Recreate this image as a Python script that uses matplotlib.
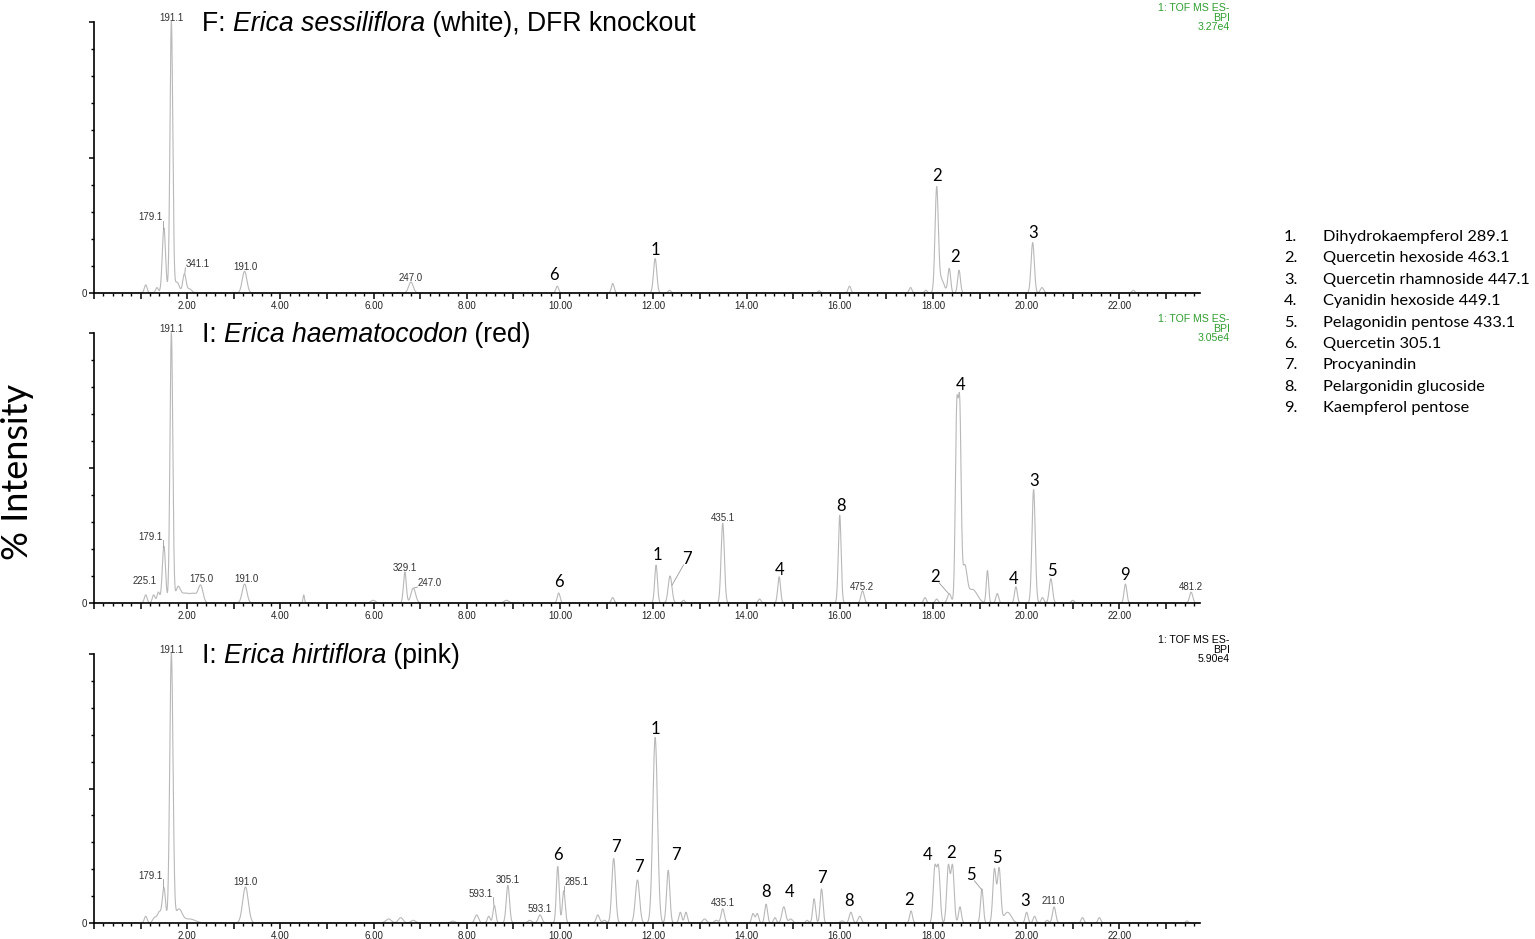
import numpy as np
import matplotlib
matplotlib.use('Agg')
import matplotlib.pyplot as plt
from matplotlib.ticker import MultipleLocator, FuncFormatter

# peaks: (retention time min, % intensity, peak sigma)
peaks_sessiliflora = [
    (1.11, 3, 0.03), (1.35, 2, 0.03), (1.50, 24, 0.035), (1.66, 100, 0.03),
    (1.78, 4, 0.05), (1.94, 7, 0.035), (2.05, 1.5, 0.05), (3.23, 8, 0.05),
    (6.80, 4, 0.05), (9.94, 2.5, 0.03), (11.13, 3.5, 0.03), (12.04, 12.7, 0.035),
    (12.35, 1, 0.03), (15.56, 0.8, 0.03), (16.21, 2.5, 0.03), (17.52, 2, 0.03),
    (17.85, 1, 0.03), (18.08, 38, 0.035), (18.18, 5, 0.06), (18.35, 9, 0.03),
    (18.56, 8.4, 0.03), (20.14, 18.6, 0.035), (20.34, 2, 0.035), (22.30, 1, 0.03),
]
peaks_haematocodon = [
    (1.11, 3, 0.03), (1.28, 3, 0.03), (1.38, 4, 0.03), (1.50, 21, 0.035),
    (1.66, 100, 0.03), (1.80, 5, 0.05), (1.95, 3.5, 0.1), (2.15, 3, 0.08),
    (2.29, 6, 0.05), (3.23, 7, 0.05), (4.50, 3, 0.015), (5.99, 1, 0.05),
    (6.67, 11.5, 0.03), (6.85, 5.5, 0.05), (8.85, 1, 0.05), (9.97, 3.7, 0.03),
    (11.13, 2, 0.03), (12.06, 14, 0.03), (12.36, 10, 0.04), (12.65, 1, 0.03),
    (13.49, 29.5, 0.035), (14.28, 1.5, 0.03), (14.70, 9.7, 0.03), (16.00, 32.5, 0.03),
    (16.49, 4.5, 0.035), (17.83, 2, 0.03), (18.08, 1.5, 0.03), (18.35, 3.5, 0.04),
    (18.51, 68, 0.03), (18.575, 68, 0.03), (18.68, 13, 0.05), (18.85, 5, 0.1),
    (19.17, 12, 0.025), (19.38, 3.5, 0.03), (19.78, 6, 0.03), (20.16, 42, 0.035),
    (20.35, 2, 0.03), (20.53, 9, 0.035), (21.0, 1, 0.03), (22.13, 7, 0.03),
    (23.54, 4, 0.035),
]
peaks_hirtiflora = [
    (1.11, 2.5, 0.03), (1.30, 2, 0.04), (1.40, 4, 0.04), (1.50, 13, 0.035),
    (1.66, 100, 0.035), (1.82, 5, 0.07), (2.05, 1.5, 0.12), (3.25, 13.4, 0.06),
    (6.32, 1.5, 0.06), (6.58, 2, 0.05), (6.85, 1, 0.05), (7.7, 0.7, 0.05),
    (8.21, 3, 0.04), (8.47, 2.5, 0.03), (8.59, 6.5, 0.03), (8.88, 14, 0.035),
    (9.35, 1, 0.04), (9.57, 3, 0.04), (9.95, 21, 0.03), (10.08, 12, 0.03),
    (10.81, 3, 0.035), (10.95, 1, 0.04), (11.15, 24, 0.04), (11.66, 16, 0.045),
    (12.04, 69, 0.05), (12.32, 19.6, 0.035), (12.58, 4, 0.03), (12.70, 4, 0.03),
    (13.10, 1.5, 0.04), (13.35, 1, 0.04), (13.49, 5.3, 0.035), (14.14, 3.5, 0.03),
    (14.23, 3.5, 0.03), (14.42, 7, 0.03), (14.61, 2, 0.03), (14.80, 6, 0.04),
    (14.95, 1.5, 0.04), (15.30, 1, 0.03), (15.45, 9, 0.03), (15.61, 12.7, 0.03),
    (16.05, 0.8, 0.04), (16.24, 4, 0.035), (16.43, 2.5, 0.035), (17.53, 4.5, 0.03),
    (18.04, 20, 0.035), (18.12, 20, 0.035), (18.33, 21, 0.035), (18.42, 21, 0.035),
    (18.58, 6, 0.03), (19.05, 12.7, 0.03), (19.32, 20, 0.035), (19.42, 20, 0.035),
    (19.60, 4, 0.08), (20.01, 4, 0.03), (20.18, 2.5, 0.03), (20.45, 1, 0.03),
    (20.60, 6, 0.035), (21.21, 2, 0.03), (21.57, 2, 0.03), (23.45, 0.8, 0.03),
]

# peak annotations: (text, rt, % height of label, kind, rt of peak for leader or None)
labels_sessiliflora = [
    ('191.1', 1.66, 100.5, 'mz', None), ('179.1', 1.22, 27, 'mz', 1.49),
    ('341.1', 2.23, 9.6, 'mz', 1.95), ('191.0', 3.24, 8.6, 'mz', None),
    ('247.0', 6.80, 4.6, 'mz', None), ('6', 9.86, 4.7, 'id', None),
    ('1', 12.04, 14, 'id', None), ('2', 18.09, 41.2, 'id', None),
    ('2', 18.47, 11.3, 'id', None), ('3', 20.14, 20.4, 'id', None),
]
labels_haematocodon = [
    ('191.1', 1.66, 100.5, 'mz', None), ('179.1', 1.22, 23.5, 'mz', 1.49),
    ('225.1', 1.08, 7, 'mz', None), ('175.0', 2.31, 7.6, 'mz', None),
    ('191.0', 3.26, 7.8, 'mz', None), ('329.1', 6.67, 11.8, 'mz', None),
    ('247.0', 7.21, 6.2, 'mz', 6.87), ('6', 9.97, 6, 'id', None),
    ('1', 12.08, 16, 'id', None), ('7', 12.73, 14.4, 'id', 12.40),
    ('435.1', 13.49, 30.3, 'mz', None), ('4', 14.72, 10.5, 'id', None),
    ('8', 16.02, 34, 'id', None), ('475.2', 16.47, 5, 'mz', None),
    ('2', 18.05, 7.8, 'id', 18.33), ('4', 18.59, 79, 'id', None),
    ('4', 19.73, 7.2, 'id', None), ('3', 20.18, 43.3, 'id', None),
    ('5', 20.56, 10, 'id', None), ('9', 22.13, 8.7, 'id', None),
    ('481.2', 23.53, 4.7, 'mz', None),
]
labels_hirtiflora = [
    ('191.1', 1.66, 100.5, 'mz', None), ('179.1', 1.22, 16.5, 'mz', 1.49),
    ('191.0', 3.25, 14.3, 'mz', None), ('593.1', 8.30, 9.7, 'mz', 8.58),
    ('305.1', 8.88, 14.9, 'mz', None), ('593.1', 9.57, 4.1, 'mz', None),
    ('6', 9.96, 23.3, 'id', None), ('285.1', 10.36, 14, 'mz', 10.09),
    ('7', 11.20, 26.4, 'id', None), ('7', 11.70, 19, 'id', None),
    ('1', 12.04, 70.3, 'id', None), ('7', 12.49, 23.3, 'id', None),
    ('435.1', 13.49, 6.2, 'mz', None), ('8', 14.41, 9.7, 'id', None),
    ('4', 14.93, 9.7, 'id', None), ('7', 15.61, 14.9, 'id', None),
    ('8', 16.20, 6.2, 'id', None), ('2', 17.49, 6.8, 'id', None),
    ('4', 17.88, 23.3, 'id', None), ('2', 18.39, 24, 'id', None),
    ('5', 18.81, 16, 'id', 19.04), ('5', 19.37, 22.3, 'id', None),
    ('3', 19.98, 6.4, 'id', None), ('211.0', 20.59, 7.2, 'mz', None),
]

titles = [
    [('F: ', 'normal'), ('Erica sessiliflora', 'italic'), (' (white), DFR knockout', 'normal')],
    [('I: ', 'normal'), ('Erica haematocodon', 'italic'), (' (red)', 'normal')],
    [('I: ', 'normal'), ('Erica hirtiflora', 'italic'), (' (pink)', 'normal')],
]
bpi_values = ['3.27e4', '3.05e4', '5.90e4']
bpi_colors = ['#2e9e2e', '#2e9e2e', 'black']

compounds = ['Dihydrokaempferol 289.1', 'Quercetin hexoside 463.1',
             'Quercetin rhamnoside 447.1', 'Cyanidin hexoside 449.1',
             'Pelagonidin pentose 433.1', 'Quercetin 305.1', 'Procyanindin',
             'Pelargonidin glucoside', 'Kaempferol pentose']

ARIAL = ['Liberation Sans', 'DejaVu Sans']
CALIBRI = ['Lato', 'DejaVu Sans']
TRACE = '#b8b8b8'

W, H = 1535, 939
fig = plt.figure(figsize=(W / 100, H / 100), dpi=100)
renderer = fig.canvas.get_renderer()

def text_width(s, **kw):
    # width in px, including spaces (bracket trick)
    t1 = fig.text(0, 0, '|' + s + '|', **kw)
    t2 = fig.text(0, 0, '||', **kw)
    w = t1.get_window_extent(renderer).width - t2.get_window_extent(renderer).width
    t1.remove(); t2.remove()
    return w

XMAX = 23.73
t = np.linspace(0, XMAX, 8000)
panels = [(22, 293), (333, 603), (654, 923)]
all_peaks = [peaks_sessiliflora, peaks_haematocodon, peaks_hirtiflora]
all_labels = [labels_sessiliflora, labels_haematocodon, labels_hirtiflora]

for i, (ytop, ybot) in enumerate(panels):
    left, right = 94, 1200
    ax = fig.add_axes([left / W, 1 - ybot / H, (right - left) / W, (ybot - ytop) / H])
    trace = np.zeros_like(t)
    for rt, h, s in all_peaks[i]:
        trace += h * np.exp(-0.5 * ((t - rt) / s) ** 2)
    ax.plot(t, trace, color=TRACE, lw=0.8, clip_on=False)
    ax.set_xlim(0, XMAX)
    ax.set_ylim(0, 100)
    for sp in ['top', 'right']:
        ax.spines[sp].set_visible(False)
    for sp in ['left', 'bottom']:
        ax.spines[sp].set_linewidth(1.2)
    ax.xaxis.set_major_locator(MultipleLocator(1))
    ax.xaxis.set_minor_locator(MultipleLocator(0.2))
    ax.xaxis.set_major_formatter(FuncFormatter(
        lambda v, p: f'{v:.2f}' if v > 0.5 and round(v) % 2 == 0 else ''))
    ax.yaxis.set_major_locator(MultipleLocator(50))
    ax.yaxis.set_minor_locator(MultipleLocator(10))
    ax.yaxis.set_major_formatter(FuncFormatter(lambda v, p: '0' if v == 0 else ''))
    ax.tick_params(axis='x', which='major', length=4, width=1.1, pad=2, labelsize=7)
    ax.tick_params(axis='x', which='minor', length=2, width=1.0)
    ax.tick_params(axis='y', which='major', length=3.5, width=1.1, pad=1.5, labelsize=7)
    ax.tick_params(axis='y', which='minor', length=2, width=1.0)
    for lab in ax.get_xticklabels() + ax.get_yticklabels():
        lab.set_family(ARIAL)
        lab.set_color('#222222')

    # peak annotations
    for text, rt, yl, kind, lead in all_labels[i]:
        if kind == 'mz':
            ax.text(rt, yl, text, ha='center', va='baseline', fontsize=7,
                    family=ARIAL, color='#333333')
            hw = 0.27
        else:
            ax.text(rt, yl, text, ha='center', va='baseline', fontsize=12,
                    family=CALIBRI, color='black')
            hw = 0.08
        if lead is not None:
            py = np.interp(lead, t, trace)
            sx = rt + np.sign(lead - rt) * hw
            ax.plot([sx, lead], [yl - 0.3, py + 0.5], color='#999999', lw=0.6)

    # title with italic species name
    ax_w = ax.get_window_extent(renderer).width
    x = 0.0975
    for s, style in titles[i]:
        ax.text(x, 0.968, s, transform=ax.transAxes, fontsize=19.2, style=style,
                family=ARIAL, va='baseline', ha='left')
        x += text_width(s, fontsize=19.2, style=style, family=ARIAL) / ax_w

    # instrument label
    ax.annotate('1: TOF MS ES-\nBPI\n' + bpi_values[i], xy=(1.027, 1.0),
                xycoords='axes fraction', xytext=(0, 13.5), textcoords='offset points',
                ha='right', va='top', multialignment='right', fontsize=7.6,
                family=ARIAL, color=bpi_colors[i], linespacing=0.95)

fig.text(18 / W, 1 - 472 / H, '% Intensity', rotation=90, ha='center', va='center',
         fontsize=26, family=CALIBRI)

for k, name in enumerate(compounds):
    yy = 1 - (237 + k * 21.4) / H
    fig.text(1284 / W, yy, f'{k + 1}.', ha='left', va='center', fontsize=11.8, family=CALIBRI)
    fig.text(1323 / W, yy, name, ha='left', va='center', fontsize=11.8, family=CALIBRI)

fig.savefig('out.png', dpi=100)
